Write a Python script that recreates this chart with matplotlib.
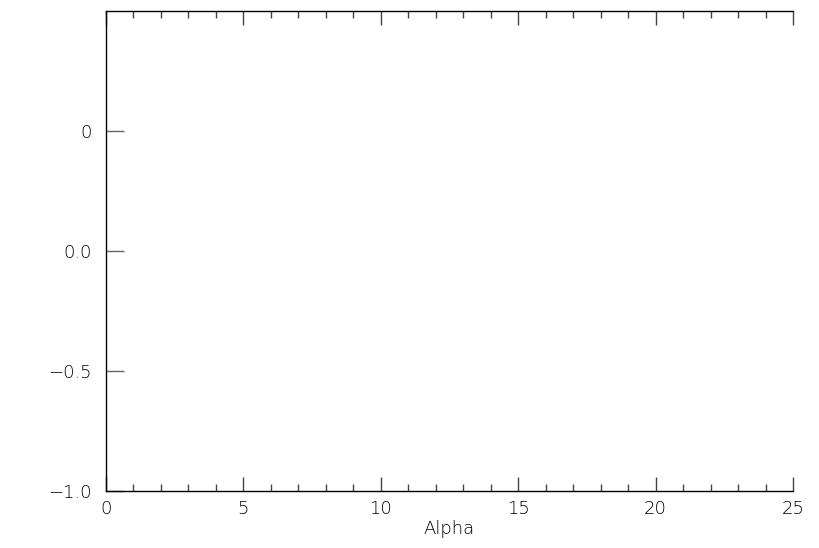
import matplotlib
matplotlib.use('Agg')
import matplotlib.pyplot as plt
from matplotlib.ticker import MultipleLocator

# axis ranges and tick labels (empty frame, no series)
x_range = [0, 25]
y_range = [-1.0, 1.0]
x_ticks = [0, 5, 10, 15, 20, 25]
x_tick_labels = ['0', '5', '10', '15', '20', '25']
y_ticks = [-1.0, -0.5, 0.0, 0.5]
y_tick_labels = ['\u22121.0', '\u22120.5', '0.0', '0']
x_title = 'Alpha'

plt.rcParams['font.family'] = ['DejaVu Sans']
fig = plt.figure(figsize=(8.19, 5.48), dpi=100)
ax = fig.add_axes([106 / 819, 1 - 490.5 / 548, (793 - 106) / 819, (490.5 - 10.5) / 548])

ax.set_xlim(x_range)
ax.set_ylim(y_range)

ax.spines['right'].set_visible(False)
for s in ['left', 'bottom', 'top']:
    ax.spines[s].set_linewidth(1.0)
    ax.spines[s].set_color('black')

ax.set_xticks(x_ticks)
ax.set_xticklabels(x_tick_labels)
ax.xaxis.set_minor_locator(MultipleLocator(1))
ax.set_yticks(y_ticks)
ax.set_yticklabels(y_tick_labels)

ax.tick_params(axis='x', which='major', direction='in', length=10, width=1,
               color='#444444', top=True, bottom=True, labelsize=13, pad=7)
ax.tick_params(axis='x', which='minor', direction='in', length=5, width=1,
               color='#444444', top=True, bottom=True)
ax.tick_params(axis='y', which='major', direction='in', length=13, width=1,
               color='#666666', left=True, right=False, labelsize=13, pad=10)

for lab in ax.get_xticklabels() + ax.get_yticklabels():
    lab.set_fontweight('light')

ax.set_xlabel(x_title, fontsize=13, fontweight='light', labelpad=1)

fig.savefig('out.png', dpi=100)
